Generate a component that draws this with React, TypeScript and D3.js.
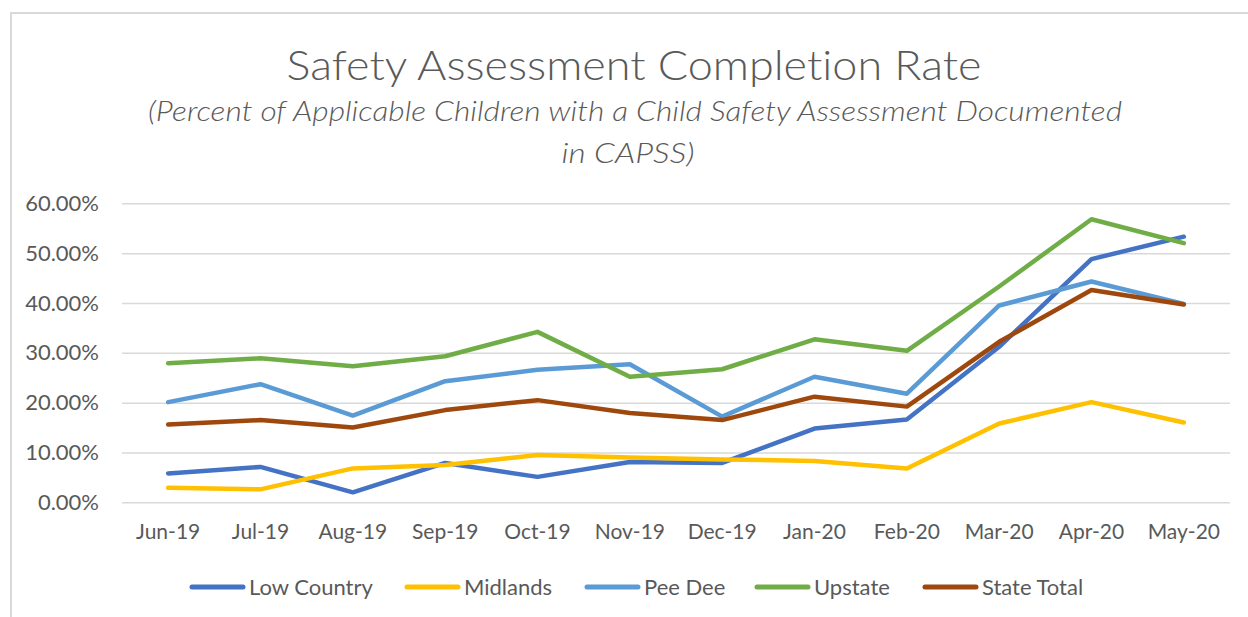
import React, { useEffect, useRef } from "react";
import * as d3 from "d3";

const months = ["Jun-19", "Jul-19", "Aug-19", "Sep-19", "Oct-19", "Nov-19", "Dec-19", "Jan-20", "Feb-20", "Mar-20", "Apr-20", "May-20"];
const lowCountry = [5.8, 7.1, 2.0, 7.9, 5.1, 8.1, 7.9, 14.8, 16.6, 31.2, 48.8, 53.3];
const midlands = [2.9, 2.6, 6.8, 7.5, 9.5, 9.0, 8.6, 8.3, 6.8, 15.8, 20.1, 16.0];
const peeDee = [20.1, 23.7, 17.4, 24.3, 26.6, 27.7, 17.2, 25.2, 21.8, 39.5, 44.3, 39.8];
const upstate = [27.9, 28.9, 27.3, 29.3, 34.2, 25.2, 26.7, 32.7, 30.4, 43.3, 56.8, 52.0];
const stateTotal = [15.6, 16.5, 15.0, 18.5, 20.5, 17.9, 16.5, 21.2, 19.2, 32.2, 42.6, 39.7];
const yTicks = [0, 10, 20, 30, 40, 50, 60];

const series = [
  { name: "Low Country", values: lowCountry, color: "#4472C4" },
  { name: "Midlands", values: midlands, color: "#FFC000" },
  { name: "Pee Dee", values: peeDee, color: "#5B9BD5" },
  { name: "Upstate", values: upstate, color: "#70AD47" },
  { name: "State Total", values: stateTotal, color: "#9E480E" },
];

const W = 1248;
const H = 617;
const font = "Lato, 'Open Sans', sans-serif";
const textColor = "#595959";

export default function App() {
  const ref = useRef<SVGSVGElement>(null);

  useEffect(() => {
    const svg = d3.select(ref.current);
    svg.selectAll("*").remove();
    svg.style("font-variant-ligatures", "none");

    // chart frame
    svg.append("rect")
      .attr("x", 11).attr("y", 13)
      .attr("width", W + 20).attr("height", H + 20)
      .attr("fill", "#fff").attr("stroke", "#D9D9D9").attr("stroke-width", 2);

    // titles
    svg.append("text")
      .attr("x", 634).attr("y", 80)
      .attr("text-anchor", "middle")
      .attr("font-family", font).attr("font-size", 42).attr("font-weight", 300)
      .attr("fill", textColor)
      .attr("textLength", 695).attr("lengthAdjust", "spacingAndGlyphs")
      .text("Safety Assessment Completion Rate");
    svg.append("text")
      .attr("x", 635).attr("y", 121)
      .attr("text-anchor", "middle")
      .attr("font-family", font).attr("font-size", 28).attr("font-style", "italic").attr("font-weight", 300)
      .attr("fill", textColor)
      .attr("textLength", 974).attr("lengthAdjust", "spacingAndGlyphs")
      .text("(Percent of Applicable Children with a Child Safety Assessment Documented");
    svg.append("text")
      .attr("x", 628).attr("y", 163)
      .attr("text-anchor", "middle")
      .attr("font-family", font).attr("font-size", 28).attr("font-style", "italic").attr("font-weight", 300)
      .attr("fill", textColor)
      .attr("textLength", 133).attr("lengthAdjust", "spacingAndGlyphs")
      .text("in CAPSS)");

    const x = d3.scaleBand().domain(months).range([122, 1230]);
    const y = d3.scaleLinear().domain([0, 60]).range([502.3, 203.3]);

    // gridlines + y labels
    const yAxis = d3.axisLeft(y).tickValues(yTicks).tickSize(-(1230 - 122)).tickPadding(23)
      .tickFormat(d => `${(+d).toFixed(2)}%`);
    const gy = svg.append("g").attr("transform", "translate(122,0)").call(yAxis);
    gy.select(".domain").remove();
    gy.selectAll(".tick line").attr("stroke", "#D9D9D9").attr("stroke-width", 1.5);
    gy.selectAll(".tick text")
      .attr("font-family", font).attr("font-size", 22).attr("fill", textColor);

    // x labels
    const xAxis = d3.axisBottom(x).tickSize(0).tickPadding(22);
    const gx = svg.append("g").attr("transform", "translate(0,502.3)").call(xAxis);
    gx.select(".domain").remove();
    gx.selectAll(".tick text")
      .attr("font-family", font).attr("font-size", 21).attr("fill", textColor);

    // lines
    const line = d3.line<number>()
      .x((_, i) => (x(months[i]) as number) + x.bandwidth() / 2)
      .y(d => y(d));
    svg.append("g").selectAll("path")
      .data(series)
      .join("path")
      .attr("d", d => line(d.values))
      .attr("fill", "none")
      .attr("stroke", d => d.color)
      .attr("stroke-width", 4.5)
      .attr("stroke-linecap", "round")
      .attr("stroke-linejoin", "round");

    // legend
    const legendX = [192, 407, 587, 757, 925];
    const lg = svg.append("g").selectAll("g")
      .data(series)
      .join("g")
      .attr("transform", (_, i) => `translate(${legendX[i]},587)`);
    lg.append("line")
      .attr("x1", 0).attr("x2", 51)
      .attr("stroke", d => d.color).attr("stroke-width", 5).attr("stroke-linecap", "round");
    lg.append("text")
      .attr("x", 57).attr("dy", "0.35em")
      .attr("font-family", font).attr("font-size", 22).attr("fill", textColor)
      .text(d => d.name);
  }, []);

  return (
    <svg ref={ref} width={W} height={H} style={{ position: "absolute", left: 0, top: 0, background: "#fff" }} />
  );
}
